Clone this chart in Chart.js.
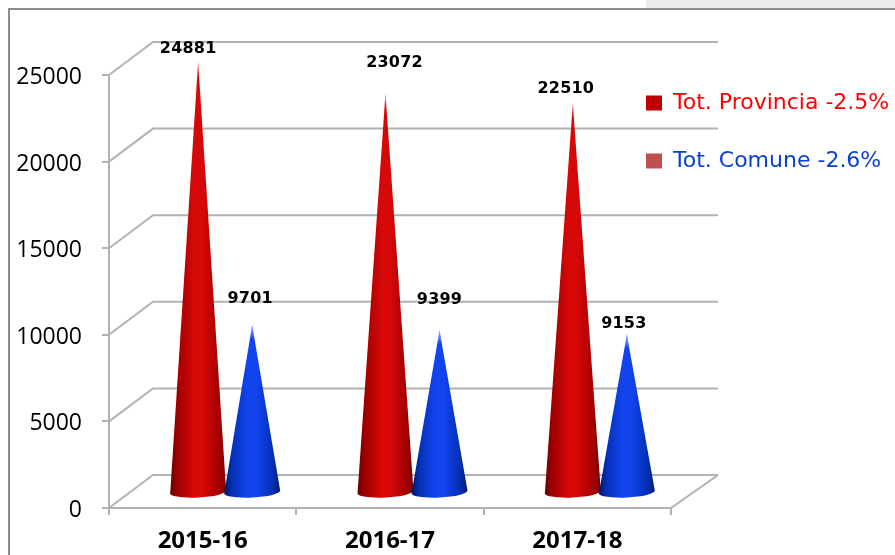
<!DOCTYPE html>
<html>
<head>
<meta charset="utf-8">
<style>html,body{margin:0;padding:0;background:#fff}#w{position:relative;width:895px;height:555px}</style>
<script src="https://cdn.jsdelivr.net/npm/chart.js@4"></script>
</head>
<body>
<div id="w"><canvas id="c" width="895" height="555"></canvas></div>
<script>
const categories = ['2015-16', '2016-17', '2017-18'];
const provincia = [24881, 23072, 22510];
const comune = [9701, 9399, 9153];
const seriesNames = ['Tot. Provincia -2.5%', 'Tot. Comune -2.6%'];
const yTicks = [0, 5000, 10000, 15000, 20000, 25000];

// styling / 3D look (not data)
const depthX = 44, depthY = 33;
const planeX = 22.5, planeY = 15;
const labelShift = [
  [[-10, -13], [9, -31], [-7, -14]],
  [[-2, -26], [0, -30], [-3, -11]]
];
const ramps = [
  ['#6a0000', '#a00000', '#d60808', '#d60808', '#a60000', '#780000'],
  ['#00126a', '#0430b4', '#1244ee', '#1244ee', '#0430b4', '#001c7a']
];
const tipFade = ['rgba(255,200,200,', 'rgba(200,215,255,'];
const gridCol = '#b2b2b2';

const cones = {
  id: 'cones',
  beforeDraw(chart) {
    const ctx = chart.ctx;
    ctx.save();
    ctx.fillStyle = '#ebebeb';
    ctx.fillRect(646, 0, 249, 8);
    ctx.strokeStyle = '#8c8c8c';
    ctx.lineWidth = 2;
    ctx.beginPath();
    ctx.moveTo(9, 556); ctx.lineTo(9, 9); ctx.lineTo(896, 9);
    ctx.stroke();
    const y = chart.scales.y, x = chart.scales.x;
    const L = x.left, R = x.right;
    ctx.strokeStyle = gridCol;
    ctx.lineWidth = 2;
    yTicks.forEach(v => {
      const p = y.getPixelForValue(v);
      ctx.beginPath();
      ctx.moveTo(L, p);
      ctx.lineTo(L + depthX, p - depthY);
      ctx.lineTo(R + depthX + 3, p - depthY);
      ctx.stroke();
    });
    const b = y.getPixelForValue(0);
    ctx.beginPath();
    ctx.moveTo(L, y.getPixelForValue(yTicks[yTicks.length - 1]));
    ctx.lineTo(L, b);
    ctx.lineTo(R, b);
    ctx.lineTo(R + depthX + 3, b - depthY);
    ctx.stroke();
    ctx.restore();
  },
  afterLayout(chart) {
    const l = chart.legend;
    if (!l) return;
    const w = l.width, h = l.height;
    l.left = 610; l.top = 56; l.right = 610 + w; l.bottom = 56 + h;
  },
  afterDatasetsDraw(chart) {
    const ctx = chart.ctx;
    chart.data.datasets.forEach((ds, di) => {
      const meta = chart.getDatasetMeta(di);
      meta.data.forEach((bar, i) => {
        const cx = bar.x + planeX, top = bar.y - planeY, base = bar.base - planeY;
        const rx = 28, ry = 5.5, tilt = -0.05;
        ctx.save();
        ctx.beginPath();
        ctx.moveTo(cx, top);
        ctx.lineTo(cx + rx * Math.cos(tilt), base + rx * Math.sin(tilt));
        ctx.ellipse(cx, base, rx, ry, tilt, 0, Math.PI);
        ctx.closePath();
        ctx.clip();
        const g = ctx.createLinearGradient(cx - rx, 0, cx + rx, 0);
        const stops = [0, 0.14, 0.42, 0.58, 0.86, 1];
        ramps[di].forEach((c, k) => g.addColorStop(stops[k], c));
        ctx.fillStyle = g;
        ctx.fillRect(cx - rx - 1, top - 1, 2 * rx + 2, base - top + ry + 4);
        const f = ctx.createLinearGradient(0, top, 0, top + 14);
        f.addColorStop(0, tipFade[di] + '0.8)');
        f.addColorStop(1, tipFade[di] + '0)');
        ctx.fillStyle = f;
        ctx.fillRect(cx - rx, top - 1, 2 * rx, 16);
        ctx.restore();

        ctx.save();
        ctx.font = 'bold 16px "DejaVu Sans"';
        ctx.letterSpacing = '0.2px';
        ctx.fillStyle = '#000';
        ctx.textAlign = 'center';
        ctx.textBaseline = 'middle';
        const s = labelShift[di][i];
        ctx.fillText(String(ds.data[i]), cx + s[0], top + s[1]);
        ctx.restore();
      });
    });
  }
};

new Chart(document.getElementById('c'), {
  type: 'bar',
  data: {
    labels: categories,
    datasets: [
      { label: seriesNames[0], data: provincia, backgroundColor: 'rgba(0,0,0,0)' },
      { label: seriesNames[1], data: comune, backgroundColor: 'rgba(0,0,0,0)' }
    ]
  },
  options: {
    responsive: false,
    animation: false,
    devicePixelRatio: 1,
    categoryPercentage: 0.577,
    barPercentage: 1,
    layout: { autoPadding: false, padding: { left: 9, top: 75, right: 224, bottom: 0 } },
    scales: {
      x: {
        afterFit(s) { s.height = 47; },
        grid: { drawOnChartArea: false, drawTicks: true, tickLength: 7, color: gridCol, lineWidth: 2, offset: true },
        border: { display: false },
        ticks: { color: '#000', padding: 12, maxRotation: 0, font: { family: '"Open Sans"', size: 24, weight: 'bold' } }
      },
      y: {
        min: 0, max: 25000,
        afterFit(s) { s.width = 100; },
        afterBuildTicks(s) { s.ticks = yTicks.map(v => ({ value: v })); },
        grid: { drawOnChartArea: false, drawTicks: true, tickLength: 7, color: gridCol, lineWidth: 2 },
        border: { display: false },
        ticks: { color: '#000', padding: 20, labelOffset: 2.5, callback: v => String(v), font: { family: '"Open Sans"', size: 23 } }
      }
    },
    plugins: {
      tooltip: { enabled: false },
      title: { display: false },
      legend: {
        position: 'chartArea',
        align: 'start',
        labels: {
          boxWidth: 16,
          boxHeight: 15,
          padding: 36,
          font: { family: '"DejaVu Sans"', size: 22 },
          generateLabels() {
            return [
              { text: seriesNames[0], fillStyle: '#c00000', strokeStyle: '#c00000', lineWidth: 0, fontColor: '#ff0000', datasetIndex: 0 },
              { text: seriesNames[1], fillStyle: '#c0504d', strokeStyle: '#c0504d', lineWidth: 0, fontColor: '#0b3fd0', datasetIndex: 1 }
            ];
          }
        }
      }
    }
  },
  plugins: [cones]
});
</script>
</body>
</html>
